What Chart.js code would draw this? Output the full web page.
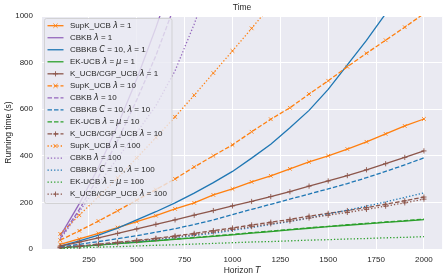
<!DOCTYPE html>
<html>
<head>
<title>Time</title>
<script src="https://cdn.jsdelivr.net/npm/chart.js@4.4.0/dist/chart.umd.min.js"></script>
<style>
  body { margin: 0; background: #fff; }
  .wrap { position: relative; width: 447px; height: 280px; }
</style>
</head>
<body>
<div class="wrap"><canvas id="timeChart" width="447" height="280"></canvas></div>
<script>
// horizon T values (x) and running times in seconds (y)
var horizon = [100, 200, 300, 400, 500, 600, 700, 800, 900, 1000, 1100, 1200, 1300, 1400, 1500, 1600, 1700, 1800, 1900, 2000];

var supk1   = [20, 43, 67, 92, 117, 143, 172, 198, 232, 258, 288, 314, 344, 374, 400, 429, 460, 494, 528, 558];
var cbkb1   = [55, 195, 350, 530, 730, 950, 1190];
var cbbkb1  = [12, 35, 60, 90, 125, 160, 198, 240, 285, 333, 390, 450, 520, 595, 685, 790, 895, 1010];
var ek1     = [5, 11, 17, 23, 29, 35, 41, 48, 54, 61, 68, 75, 82, 89, 96, 102, 108, 114, 120, 126];
var kucb1   = [12, 30, 48, 67, 86, 106, 125, 145, 165, 185, 204, 225, 246, 270, 292, 315, 340, 366, 393, 421];

var supk10  = [38, 78, 120, 164, 210, 255, 301, 352, 400, 447, 503, 557, 606, 665, 722, 782, 840, 896, 952, 1010];
var cbkb10  = [45, 170, 310, 465, 640, 830, 1050];
var cbbkb10 = [8, 20, 32, 44, 57, 72, 87, 105, 125, 148, 170, 192, 214, 236, 258, 281, 306, 333, 361, 391];
var ek10    = [5, 11, 17, 24, 30, 36, 43, 49, 56, 63, 70, 77, 84, 91, 97, 104, 110, 116, 122, 128];
var kucb10  = [6, 13, 21, 29, 37, 46, 56, 67, 79, 90, 103, 115, 127, 141, 153, 165, 178, 192, 207, 223];

var supk100  = [65, 145, 225, 305, 391, 478, 567, 660, 755, 850, 947, 1045];
var cbkb100  = [40, 160, 280, 390, 500, 615, 765, 965, 1190];
var cbbkb100 = [5, 11, 18, 25, 32, 40, 49, 58, 68, 80, 92, 105, 118, 133, 150, 167, 184, 202, 221, 241];
var ek100    = [2, 5, 8, 10, 13, 16, 18, 21, 24, 27, 30, 32, 35, 38, 40, 43, 45, 48, 50, 53];
var kucb100  = [5, 11, 18, 26, 34, 43, 52, 62, 73, 84, 96, 108, 120, 133, 145, 157, 170, 184, 198, 214];

var xTicks = [250, 500, 750, 1000, 1250, 1500, 1750, 2000];
var yTicks = [0, 200, 400, 600, 800, 1000];

var ORANGE = '#ff7f0e', PURPLE = '#9467bd', BLUE = '#1f77b4', GREEN = '#2ca02c', BROWN = '#8c564b';
var TEXT = '#262626';
var SANS = '"Liberation Sans", Arial, sans-serif';
var MATH = '"DejaVu Sans", sans-serif';
var DASH = { solid: [], dashed: [4.5, 2], dotted: [1.3, 2] };

function pts(vals) {
  return vals.map(function (v, i) { return { x: horizon[i], y: v }; });
}

// label pieces: [text, italic]
function lamLabel(name, val) { return [[name + ' ', false], ['λ', true], [' = ' + val, false]]; }
function cbbkbLabel(val) { return [['CBBKB ', false], ['C', true], [' = 10, ', false], ['λ', true], [' = ' + val, false]]; }
function ekLabel(val) { return [['EK-UCB ', false], ['λ', true], [' = ', false], ['μ', true], [' = ' + val, false]]; }

function series(label, vals, color, style, marker) {
  return {
    label: label.map(function (p) { return p[0]; }).join(''),
    pieces: label,
    data: pts(vals),
    borderColor: color,
    backgroundColor: color,
    borderWidth: 1.3,
    borderDash: DASH[style],
    pointStyle: marker === 'x' ? 'crossRot' : (marker === '+' ? 'cross' : false),
    pointRadius: marker ? 2.6 : 0,
    pointBorderWidth: 0.9,
    marker: marker,
    tension: 0
  };
}

var datasets = [
  series(lamLabel('SupK_UCB', 1), supk1, ORANGE, 'solid', 'x'),
  series(lamLabel('CBKB', 1), cbkb1, PURPLE, 'solid'),
  series(cbbkbLabel(1), cbbkb1, BLUE, 'solid'),
  series(ekLabel(1), ek1, GREEN, 'solid'),
  series(lamLabel('K_UCB/CGP_UCB', 1), kucb1, BROWN, 'solid', '+'),
  series(lamLabel('SupK_UCB', 10), supk10, ORANGE, 'dashed', 'x'),
  series(lamLabel('CBKB', 10), cbkb10, PURPLE, 'dashed'),
  series(cbbkbLabel(10), cbbkb10, BLUE, 'dashed'),
  series(ekLabel(10), ek10, GREEN, 'dashed'),
  series(lamLabel('K_UCB/CGP_UCB', 10), kucb10, BROWN, 'dashed', '+'),
  series(lamLabel('SupK_UCB', 100), supk100, ORANGE, 'dotted', 'x'),
  series(lamLabel('CBKB', 100), cbkb100, PURPLE, 'dotted'),
  series(cbbkbLabel(100), cbbkb100, BLUE, 'dotted'),
  series(ekLabel(100), ek100, GREEN, 'dotted'),
  series(lamLabel('K_UCB/CGP_UCB', 100), kucb100, BROWN, 'dotted', '+')
];
// later series drawn on top, like matplotlib
datasets.forEach(function (d, i) { d.order = datasets.length - i; });

function drawPieces(ctx, pieces, x, y, size) {
  pieces.forEach(function (p) {
    ctx.font = p[1] ? 'italic ' + size + 'px ' + MATH : size + 'px ' + SANS;
    ctx.fillText(p[0], x, y);
    x += ctx.measureText(p[0]).width;
  });
  return x;
}

var plotBg = {
  id: 'plotBg',
  beforeDraw: function (chart) {
    var a = chart.chartArea, ctx = chart.ctx;
    ctx.save();
    ctx.fillStyle = '#eaeaf2';
    ctx.fillRect(a.left, a.top, a.right - a.left, a.bottom - a.top);
    ctx.restore();
  }
};

var labelsAndLegend = {
  id: 'labelsAndLegend',
  afterDraw: function (chart) {
    var a = chart.chartArea, ctx = chart.ctx;
    var cx = (a.left + a.right) / 2;
    ctx.save();
    ctx.fillStyle = TEXT;
    ctx.textBaseline = 'middle';

    // title
    ctx.font = '8.5px ' + SANS;
    ctx.textAlign = 'center';
    ctx.fillText('Time', cx, 8);

    // x axis title with italic T
    ctx.textAlign = 'left';
    var xl = [['Horizon ', false], ['T', true]];
    ctx.font = '8.5px ' + SANS;
    var w1 = ctx.measureText('Horizon ').width;
    ctx.font = 'italic 8.5px ' + MATH;
    var w2 = ctx.measureText('T').width;
    drawPieces(ctx, xl, cx - (w1 + w2) / 2, 271, 8.5);

    // y axis title
    ctx.save();
    ctx.translate(9, (a.top + a.bottom) / 2);
    ctx.rotate(-Math.PI / 2);
    ctx.textAlign = 'center';
    ctx.font = '8.5px ' + SANS;
    ctx.fillText('Running time (s)', 0, 0);
    ctx.restore();

    // legend box
    var bx = 44.5, by = 18.5, bw = 127.5, bh = 185;
    ctx.beginPath();
    ctx.roundRect(bx, by, bw, bh, 2);
    ctx.fillStyle = 'rgba(234,234,242,0.8)';
    ctx.fill();
    ctx.strokeStyle = 'rgba(204,204,204,0.8)';
    ctx.lineWidth = 1;
    ctx.stroke();

    chart.data.datasets.forEach(function (d, i) {
      var cy = 25.7 + i * 12.03;
      ctx.strokeStyle = d.borderColor;
      ctx.lineWidth = d.borderWidth;
      ctx.setLineDash(d.borderDash);
      ctx.beginPath();
      ctx.moveTo(47.5, cy);
      ctx.lineTo(63.5, cy);
      ctx.stroke();
      ctx.setLineDash([]);
      ctx.lineWidth = 0.9;
      var mx = 55.5, r = 2.6;
      if (d.marker === 'x') {
        ctx.beginPath();
        ctx.moveTo(mx - r * 0.8, cy - r * 0.8); ctx.lineTo(mx + r * 0.8, cy + r * 0.8);
        ctx.moveTo(mx - r * 0.8, cy + r * 0.8); ctx.lineTo(mx + r * 0.8, cy - r * 0.8);
        ctx.stroke();
      } else if (d.marker === '+') {
        ctx.beginPath();
        ctx.moveTo(mx - r, cy); ctx.lineTo(mx + r, cy);
        ctx.moveTo(mx, cy - r); ctx.lineTo(mx, cy + r);
        ctx.stroke();
      }
      ctx.fillStyle = TEXT;
      drawPieces(ctx, d.pieces, 70, cy, 8);
    });
    ctx.restore();
  }
};

function plainTick(v) { return String(v); }

var ctx = document.getElementById('timeChart').getContext('2d');
var timeChart = new Chart(ctx, {
  type: 'line',
  data: { datasets: datasets },
  options: {
    responsive: false,
    animation: false,
    devicePixelRatio: 1,
    layout: { padding: { left: 0, right: 4, top: 16, bottom: 0 } },
    plugins: { legend: { display: false }, tooltip: { enabled: false }, title: { display: false } },
    scales: {
      x: {
        type: 'linear',
        min: 5,
        max: 2095,
        afterFit: function (s) { s.height = 31; },
        afterBuildTicks: function (s) { s.ticks = xTicks.map(function (v) { return { value: v }; }); },
        grid: { color: '#ffffff', lineWidth: 1, drawTicks: false },
        border: { display: false },
        ticks: { color: TEXT, font: { family: SANS, size: 8 }, padding: 6, maxRotation: 0, callback: plainTick }
      },
      y: {
        min: 0,
        max: 1000,
        afterFit: function (s) { s.width = 42; },
        afterBuildTicks: function (s) { s.ticks = yTicks.map(function (v) { return { value: v }; }); },
        grid: { color: '#ffffff', lineWidth: 1, drawTicks: false },
        border: { display: false },
        ticks: { color: TEXT, font: { family: SANS, size: 8 }, padding: 9, callback: plainTick }
      }
    }
  },
  plugins: [plotBg, labelsAndLegend]
});
</script>
</body>
</html>
